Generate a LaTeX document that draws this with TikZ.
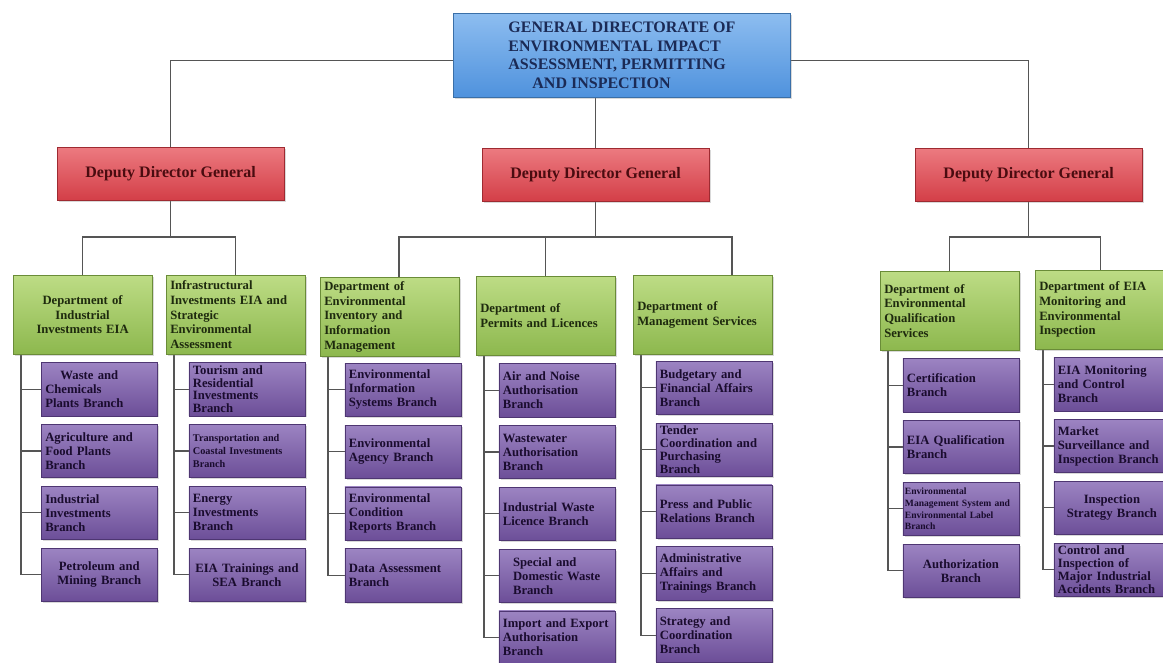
\documentclass[tikz,border=0pt]{standalone}
\usepackage{fontspec}
\setmainfont{Liberation Serif}
\usepackage{tikz}
\usetikzlibrary{positioning}
\usetikzlibrary{shadows}
\usetikzlibrary{backgrounds}

\definecolor{blueLt}{HTML}{8DBDF0}
\definecolor{blueBase}{HTML}{4F92DD}
\definecolor{blueDk}{HTML}{3A6FA8}
\definecolor{redLt}{HTML}{EC7A80}
\definecolor{redBase}{HTML}{D33E47}
\definecolor{redDk}{HTML}{9E2A31}
\definecolor{greenLt}{HTML}{BDDC85}
\definecolor{greenBase}{HTML}{8DB84E}
\definecolor{greenDk}{HTML}{6A8C38}
\definecolor{purpleLt}{HTML}{9C84C2}
\definecolor{purpleBase}{HTML}{6C4E98}
\definecolor{purpleDk}{HTML}{4E3672}
\definecolor{headtext}{HTML}{1B2A55}
\definecolor{deputytext}{HTML}{4A0C10}
\definecolor{depttext}{HTML}{1E2A0E}
\definecolor{branchtext}{HTML}{1A0C2E}
\definecolor{linkgray}{HTML}{555555}

\tikzset{
  orgbox/.style={rectangle, inner xsep=3pt, inner ysep=1.5pt,
    drop shadow={opacity=0.3, shadow xshift=1.2pt, shadow yshift=-1.2pt}},
  headbox/.style={orgbox, top color=blueLt, bottom color=blueBase, draw=blueDk,
    minimum width=253pt, minimum height=63pt, align=left, text=headtext,
    font=\bfseries\fontsize{12}{14}\selectfont},
  deputybox/.style={orgbox, top color=redLt, bottom color=redBase, draw=redDk,
    minimum width=170pt, minimum height=40pt, text=deputytext,
    font=\bfseries\fontsize{12}{14}\selectfont},
  deptbox/.style={orgbox, top color=greenLt, bottom color=greenBase, draw=greenDk,
    minimum width=104pt, minimum height=59pt, text width=98pt, align=left,
    text=depttext, font=\bfseries\fontsize{9.5}{11}\selectfont},
  branchbox/.style={orgbox, top color=purpleLt, bottom color=purpleBase, draw=purpleDk,
    minimum width=87pt, minimum height=40pt, text width=81pt, align=left,
    text=branchtext, font=\bfseries\fontsize{9.5}{10.5}\selectfont},
  smalltext/.style={font=\bfseries\fontsize{7.7}{9.5}\selectfont},
  tinytext/.style={font=\bfseries\fontsize{7.2}{8.8}\selectfont, inner xsep=1.5pt, inner ysep=0.5pt, text width=84pt},
  tight/.style={font=\bfseries\fontsize{9.5}{9.6}\selectfont, inner ysep=0pt},
  link/.style={draw=linkgray, line width=0.9pt},
}

\begin{document}
\begin{tikzpicture}[x=0.75pt, y=-0.75pt, node distance=6pt]
  \useasboundingbox (0,0) rectangle (1163,662);

  % directorate and deputies
  \node[headbox, anchor=north west] (top) at (453,13)
    {GENERAL DIRECTORATE OF\\ENVIRONMENTAL IMPACT\\ASSESSMENT, PERMITTING\\\hspace*{1.5em}AND INSPECTION};
  \node[deputybox, anchor=north west] (ddg1) at (57,147) {Deputy Director General};
  \node[deputybox, anchor=north west] (ddg2) at (482,148) {Deputy Director General};
  \node[deputybox, anchor=north west] (ddg3) at (915,148) {Deputy Director General};

  % departments
  \node[deptbox, anchor=north west, align=center] (d1) at (13,275) {Department of\\Industrial\\Investments EIA};
  \node[deptbox, anchor=north west] (d2) at (166,275) {Infrastructural\\Investments EIA and\\Strategic\\Environmental\\Assessment};
  \node[deptbox, anchor=north west] (d3) at (320,277) {Department of\\Environmental\\Inventory and\\Information\\Management};
  \node[deptbox, anchor=north west] (d4) at (476,276) {Department of\\Permits and Licences};
  \node[deptbox, anchor=north west] (d5) at (633,275) {Department of\\Management Services};
  \node[deptbox, anchor=north west] (d6) at (880,271) {Department of\\Environmental\\Qualification\\Services};
  \node[deptbox, anchor=north west, minimum width=97.5pt, text width=91.5pt] (d7) at (1035,270) {Department of EIA\\Monitoring and\\Environmental\\Inspection};

  % branches of d1
  \node[branchbox, below left=6pt and -4pt of d1.south east] (b11) {\hspace*{1.2em}Waste and\\Chemicals\\Plants Branch};
  \node[branchbox, below=of b11] (b12) {Agriculture and\\Food Plants\\Branch};
  \node[branchbox, below=of b12] (b13) {Industrial\\Investments\\Branch};
  \node[branchbox, below=of b13, align=center] (b14) {Petroleum and\\Mining Branch};

  % branches of d2
  \node[branchbox, below left=6pt and 0pt of d2.south east, tight] (b21) {Tourism and\\Residential\\Investments\\Branch};
  \node[branchbox, below=of b21, smalltext] (b22) {Transportation and\\Coastal Investments\\Branch};
  \node[branchbox, below=of b22] (b23) {Energy\\Investments\\Branch};
  \node[branchbox, below=of b23, align=center] (b24) {EIA Trainings and\\SEA Branch};

  % branches of d3
  \node[branchbox, below left=5pt and -1.5pt of d3.south east] (b31) {Environmental\\Information\\Systems Branch};
  \node[branchbox, below=of b31] (b32) {Environmental\\Agency Branch};
  \node[branchbox, below=of b32] (b33) {Environmental\\Condition\\Reports Branch};
  \node[branchbox, below=of b33] (b34) {Data Assessment\\Branch};

  % branches of d4
  \node[branchbox, below left=6pt and 0pt of d4.south east] (b41) {Air and Noise\\Authorisation\\Branch};
  \node[branchbox, below=of b41] (b42) {Wastewater\\Authorisation\\Branch};
  \node[branchbox, below=of b42] (b43) {Industrial Waste\\Licence Branch};
  \node[branchbox, below=of b43] (b44) {\hspace*{0.8em}Special and\\\hspace*{0.8em}Domestic Waste\\\hspace*{0.8em}Branch};
  \node[branchbox, below=of b44] (b45) {Import and Export\\Authorisation\\Branch};

  % branches of d5
  \node[branchbox, below left=5pt and 0pt of d5.south east] (b51) {Budgetary and\\Financial Affairs\\Branch};
  \node[branchbox, below=of b51, tight] (b52) {Tender\\Coordination and\\Purchasing\\Branch};
  \node[branchbox, below=of b52] (b53) {Press and Public\\Relations Branch};
  \node[branchbox, below=of b53] (b54) {Administrative\\Affairs and\\Trainings Branch};
  \node[branchbox, below=of b54] (b55) {Strategy and\\Coordination\\Branch};

  % branches of d6
  \node[branchbox, below left=6pt and 0pt of d6.south east] (b61) {Certification\\Branch};
  \node[branchbox, below=of b61] (b62) {EIA Qualification\\Branch};
  \node[branchbox, below=of b62, tinytext] (b63) {Environmental\\Management System and\\Environmental Label\\Branch};
  \node[branchbox, below=of b63, align=center] (b64) {Authorization\\Branch};

  % branches of d7
  \node[branchbox, below left=6pt and -3.5pt of d7.south east] (b71) {EIA Monitoring\\and Control\\Branch};
  \node[branchbox, below=of b71] (b72) {Market\\Surveillance and\\Inspection Branch};
  \node[branchbox, below=of b72, align=center] (b73) {Inspection\\Strategy Branch};
  \node[branchbox, below=of b73, tight] (b74) {Control and\\Inspection of\\Major Industrial\\Accidents Branch};

  % connectors
  \begin{scope}[on background layer]
    \draw[link] ([yshift=-4pt]top.west) -| (ddg1.north);
    \draw[link] ([yshift=-4pt]top.east) -| (ddg3.north);
    \draw[link] (ddg2.north) -- (ddg2.north |- top.south);

    \coordinate (j1) at (ddg1.south |- 0,237);
    \coordinate (j2) at (ddg2.south |- 0,237);
    \coordinate (j3) at (ddg3.south |- 0,237);
    \draw[link] (ddg1.south) -- (j1);
    \draw[link] (ddg2.south) -- (j2);
    \draw[link] (ddg3.south) -- (j3);
    \draw[link] (d1.north) |- (j1) -| (d2.north);
    \draw[link] ([xshift=7pt]d3.north) |- (j2) -| ([xshift=22pt]d5.north);
    \draw[link] (d4.north) -- (d4.north |- j2);
    \draw[link] (d6.north) |- (j3) -| (d7.north);

    \foreach \d/\n in {1/4,2/4,3/4,4/5,5/5,6/4,7/4}
      \foreach \k in {1,...,\n}
        \draw[link] ([xshift=6pt]d\d.south west) |- (b\d\k.west);
  \end{scope}
\end{tikzpicture}
\end{document}
